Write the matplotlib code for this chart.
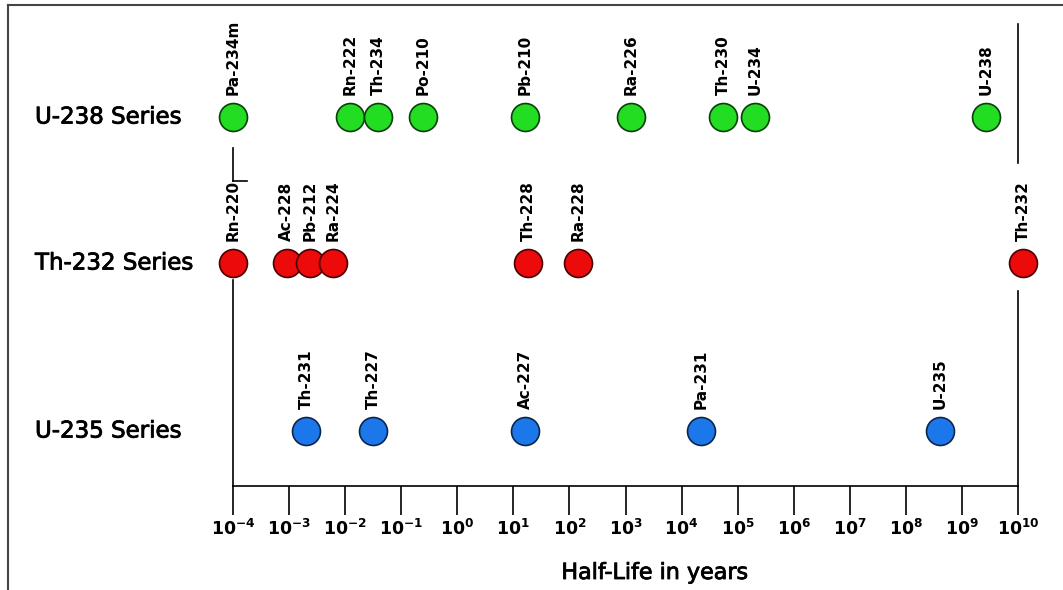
import matplotlib
matplotlib.use("Agg")
import matplotlib.pyplot as plt
import matplotlib.patheffects as pe
from matplotlib.lines import Line2D
from matplotlib.ticker import NullLocator

# Half-lives (years) of the members of the three natural decay series
u238_names = ["Pa-234m", "Rn-222", "Th-234", "Po-210", "Pb-210", "Ra-226", "Th-230", "U-234", "U-238"]
u238_years = [1.0e-4, 1.23e-2, 3.9e-2, 0.245, 16.2, 1.26e3, 5.5e4, 2.04e5, 2.7e9]

th232_names = ["Rn-220", "Ac-228", "Pb-212", "Ra-224", "Th-228", "Ra-228", "Th-232"]
th232_years = [1.0e-4, 9.1e-4, 2.34e-3, 6.0e-3, 18.2, 141.0, 1.23e10]

u235_names = ["Th-231", "Th-227", "Ac-227", "Pa-231", "U-235"]
u235_years = [2.0e-3, 3.16e-2, 16.2, 2.24e4, 4.07e8]

series_titles = ["U-238 Series", "Th-232 Series", "U-235 Series"]
tick_exponents = list(range(-4, 11))

W, H = 1063, 590
fig = plt.figure(figsize=(W / 100, H / 100), dpi=100)
plt.rcParams["mathtext.fontset"] = "dejavusans"

heavy = [pe.withStroke(linewidth=0.6, foreground="black")]

# axes spans the decade range; y runs in pixel-like units from top to axis line
ax = fig.add_axes([233 / W, (H - 486) / H, (1018 - 233) / W, (486 - 5) / H])
ax.set_xscale("log")
ax.set_xlim(1e-4, 1e10)
ax.set_ylim(486, 5)
for side in ("left", "right", "top"):
    ax.spines[side].set_visible(False)
ax.spines["bottom"].set_linewidth(1.2)
ax.set_yticks([])
ax.set_xticks([10.0 ** k for k in tick_exponents])
ax.set_xticklabels([r"$\mathbf{10^{%d}}$" % k for k in tick_exponents])
ax.xaxis.set_minor_locator(NullLocator())
ax.tick_params(axis="x", direction="out", length=29 * 0.72, width=1.2,
               pad=3, labelsize=12.5)
ax.set_xlabel("Half-Life in years", fontsize=16, path_effects=heavy)
ax.xaxis.set_label_coords((655 - 233) / 785, (486 - 573) / 481)
ax.xaxis.label.set_va("center")

row_y = [117, 263, 431]
styles = [
    ("#22dd22", "#0b3f0b"),
    ("#ec0a0a", "#4a0000"),
    ("#1c78ea", "#0a2650"),
]
groups = [(u238_names, u238_years), (th232_names, th232_years), (u235_names, u235_years)]

for (names, years), y, (fill, edge), title in zip(groups, row_y, styles, series_titles):
    ax.scatter(years, [y] * len(years), s=405, c=fill, edgecolors=edge,
               linewidths=1.2, zorder=3, clip_on=False)
    for name, t in zip(names, years):
        ax.annotate(name, (t, y), xytext=(0, 22), textcoords="offset pixels",
                    rotation=90, ha="center", va="bottom", fontsize=11,
                    fontweight="bold", annotation_clip=False)
    fig.text(35 / W, 1 - y / H, title, ha="left", va="center", fontsize=16.5,
             path_effects=heavy)

# boundary lines at the ends of the decade range
yt = ax.get_yaxis_transform()
line_kw = dict(color="black", lw=1.2, transform=yt, clip_on=False)
ax.plot([0, 0], [148, 181], **line_kw)
ax.plot([0, 14 / 785], [181, 181], **line_kw)
ax.plot([0, 0], [280, 486], **line_kw)
ax.plot([1, 1], [24, 163], **line_kw)
ax.plot([1, 1], [291, 486], **line_kw)

# picture frame along the top and left edges
fig.add_artist(Line2D([8 / W, 8 / W], [0, 1 - 5 / H], transform=fig.transFigure,
                      color="#444444", lw=1.5))
fig.add_artist(Line2D([8 / W, 1], [1 - 5 / H, 1 - 5 / H], transform=fig.transFigure,
                      color="#444444", lw=1.5))

fig.savefig("out.png", dpi=100, facecolor="white")
